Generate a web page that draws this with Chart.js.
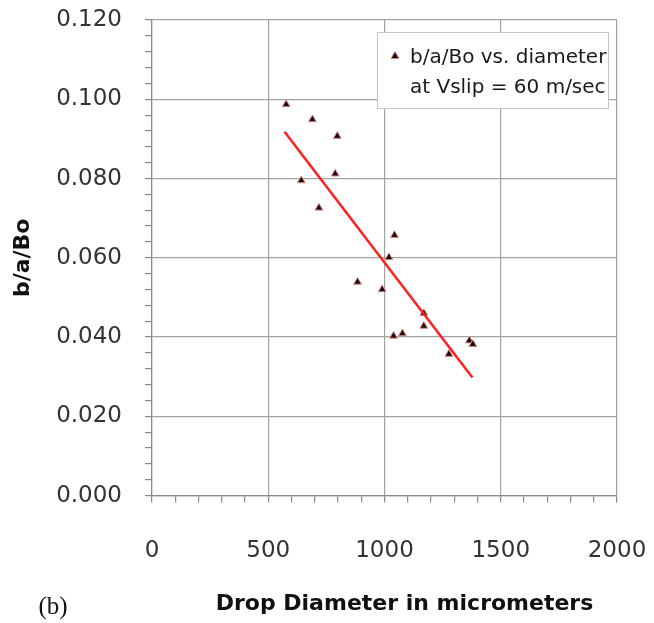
<!DOCTYPE html>
<html>
<head>
<meta charset="utf-8">
<script src="https://cdn.jsdelivr.net/npm/chart.js@4.4.0/dist/chart.umd.min.js"></script>
<style>
  html, body { margin: 0; padding: 0; background: #fff; }
  #wrap { width: 654px; height: 623px; }
</style>
</head>
<body>
<div id="wrap"><canvas id="dropChart"></canvas></div>
<script>
// drop diameter (micrometers) vs b/a/Bo at Vslip = 60 m/sec
const diameters = [577, 690, 797, 642, 788, 718, 1043, 1019, 884, 990, 1169, 1169, 1039, 1077, 1365, 1380, 1277]
const ratios = [0.0987, 0.0949, 0.0907, 0.0795, 0.0812, 0.0726, 0.0657, 0.0601, 0.0539, 0.0520, 0.0460, 0.0428, 0.0403, 0.0409, 0.0391, 0.0382, 0.0357]

// linear trendline end points
const trendX = [570, 1378]
const trendY = [0.0918, 0.0298]

const xTickLabels = [0, 500, 1000, 1500, 2000]
const yTickLabels = ['0.000', '0.020', '0.040', '0.060', '0.080', '0.100', '0.120']
const legendLines = ['b/a/Bo vs. diameter', 'at Vslip = 60 m/sec']
const xTitle = 'Drop Diameter in micrometers'
const yTitle = 'b/a/Bo'
const panelLabel = '(b)'

const gridGray = '#a3a3a3'
const axisGray = '#8a8a8a'
const markerFill = '#1e0707'
const markerEdge = '#d88a8a'

const isMajorY = (v) => Math.abs(v * 50 - Math.round(v * 50)) < 1e-6
const isMajorX = (v) => Math.abs(v / 500 - Math.round(v / 500)) < 1e-6

const points = diameters.map((d, i) => ({ x: d, y: ratios[i] }))
const trend = trendX.map((d, i) => ({ x: d, y: trendY[i] }))

const extrasPlugin = {
  id: 'extras',
  afterDraw(chart) {
    const ctx = chart.ctx
    const area = chart.chartArea
    ctx.save()

    // legend box
    const bx = 377, by = 32, bw = 231, bh = 76
    ctx.fillStyle = '#ffffff'
    ctx.fillRect(bx, by, bw, bh)
    ctx.strokeStyle = '#c4c4c4'
    ctx.lineWidth = 1
    ctx.strokeRect(bx + 0.5, by + 0.5, bw, bh)

    ctx.fillStyle = markerFill
    ctx.strokeStyle = markerEdge
    ctx.beginPath()
    ctx.moveTo(bx + 18, by + 19.5)
    ctx.lineTo(bx + 22, by + 26.5)
    ctx.lineTo(bx + 14, by + 26.5)
    ctx.closePath()
    ctx.fill()
    ctx.stroke()

    ctx.fillStyle = '#1a1a1a'
    ctx.font = '20px "DejaVu Sans"'
    ctx.textAlign = 'left'
    ctx.textBaseline = 'alphabetic'
    ctx.fillText(legendLines[0], bx + 33, by + 31)
    ctx.fillText(legendLines[1], bx + 33, by + 61)

    // x axis title, set a bit right of centre as in the original
    ctx.font = 'bold 22px "DejaVu Sans"'
    ctx.textAlign = 'center'
    ctx.fillStyle = '#111'
    ctx.fillText(xTitle, (area.left + area.right) / 2 + 20, 610)

    ctx.font = '25px "Liberation Serif"'
    ctx.fillText(panelLabel, 53, 614)
    ctx.restore()
  }
}

const ctx = document.getElementById('dropChart').getContext('2d')

new Chart(ctx, {
  type: 'scatter',
  data: {
    datasets: [
      {
        label: 'trend',
        data: trend,
        showLine: true,
        borderColor: '#ff2020',
        borderWidth: 2.5,
        pointRadius: 0,
        order: 0
      },
      {
        label: legendLines.join(' '),
        data: points,
        pointStyle: 'triangle',
        pointRadius: 4.5,
        backgroundColor: markerFill,
        borderColor: markerEdge,
        borderWidth: 1,
        order: 1
      }
    ]
  },
  options: {
    responsive: true,
    maintainAspectRatio: false,
    animation: false,
    layout: { padding: { top: 20, right: 37, left: 0, bottom: 0 } },
    plugins: {
      legend: { display: false },
      tooltip: { enabled: false }
    },
    scales: {
      x: {
        type: 'linear',
        min: 0,
        max: 2000,
        afterFit: (scale) => {
          scale.height = 127.4
          scale.paddingLeft = 0
          scale.paddingRight = 0
        },
        ticks: {
          stepSize: 100,
          autoSkip: false,
          maxRotation: 0,
          padding: 35,
          color: '#333',
          font: { family: 'DejaVu Sans', size: 23 },
          callback: (v) => isMajorX(v) ? String(xTickLabels[Math.round(v / 500)]) : ''
        },
        grid: {
          color: (c) => isMajorX(c.tick.value) ? gridGray : 'rgba(0,0,0,0)',
          tickColor: axisGray,
          tickLength: 7,
          lineWidth: 1.2
        },
        border: { color: axisGray, width: 1.2 }
      },
      y: {
        type: 'linear',
        min: 0,
        max: 0.12,
        afterFit: (scale) => {
          scale.width = 152
          scale.paddingTop = 0
          scale.paddingBottom = 0
        },
        ticks: {
          stepSize: 0.004,
          maxTicksLimit: 100,
          autoSkip: false,
          padding: 23,
          color: '#333',
          font: { family: 'DejaVu Sans', size: 23 },
          callback: (v) => isMajorY(v) ? yTickLabels[Math.round(v * 50)] : ''
        },
        grid: {
          color: (c) => isMajorY(c.tick.value) ? gridGray : 'rgba(0,0,0,0)',
          tickColor: axisGray,
          tickLength: 7,
          lineWidth: 1.2
        },
        border: { color: axisGray, width: 1.2 },
        title: {
          display: true,
          text: yTitle,
          color: '#111',
          font: { family: 'DejaVu Sans', size: 22, weight: 'bold' },
          padding: { top: 10, bottom: 0 }
        }
      }
    }
  },
  plugins: [extrasPlugin]
})
</script>
</body>
</html>
